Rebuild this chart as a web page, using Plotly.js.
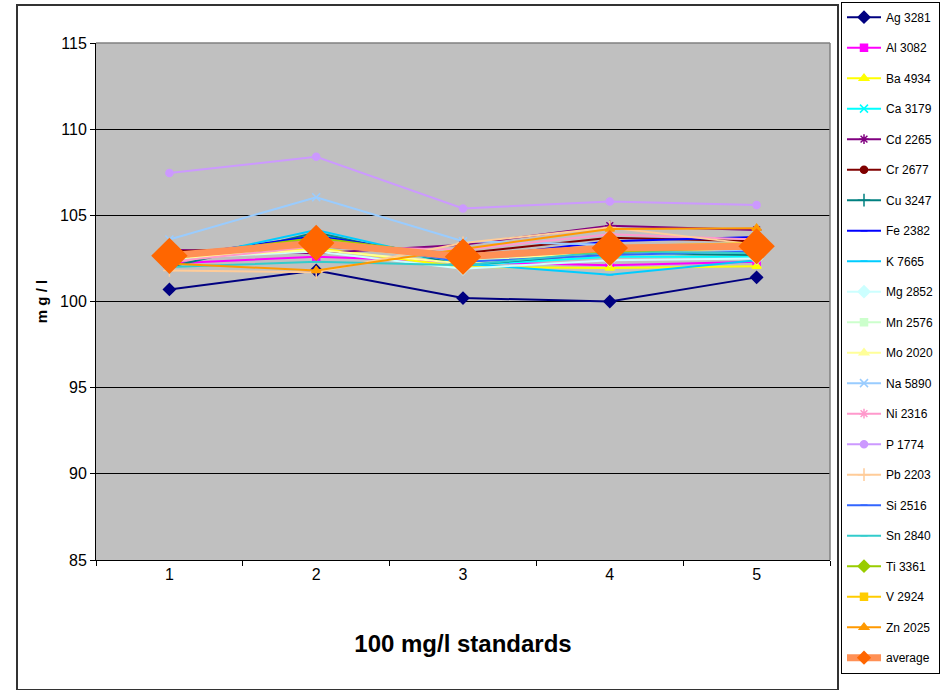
<!DOCTYPE html>
<html>
<head>
<meta charset="utf-8">
<script src="https://cdn.plot.ly/plotly-3.0.1.min.js"></script>
<style>
  html, body { margin: 0; padding: 0; background: #ffffff; }
  #chart { width: 941px; height: 690px; }
</style>
</head>
<body>
<div id="chart"></div>
<script>
// Standard runs (x axis categories)
const runs = ['1', '2', '3', '4', '5'];

// Measured concentration (mg/l) of each element line for the 100 mg/l standards
const ag3281 = [100.7, 101.8, 100.2, 100.0, 101.4];
const al3082 = [102.2, 102.6, 102.3, 102.1, 102.3];
const ba4934 = [102.4, 103.1, 102.0, 101.95, 102.05];
const ca3179 = [102.3, 103.9, 102.1, 102.6, 102.6];
const cd2265 = [103.0, 102.8, 103.3, 104.4, 104.15];
const cr2677 = [102.9, 103.2, 102.8, 103.7, 103.5];
const cu3247 = [102.0, 104.0, 102.1, 102.8, 102.7];
const fe2382 = [102.6, 103.8, 102.5, 103.5, 103.75];
const k7665 = [102.3, 104.15, 102.2, 101.55, 102.4];
const mg2852 = [102.5, 102.9, 101.9, 102.4, 102.5];
const mn2576 = [102.4, 103.3, 102.4, 102.7, 102.9];
const mo2020 = [102.5, 103.0, 102.2, 103.0, 103.0];
const na5890 = [103.6, 106.05, 103.5, 103.3, 102.9];
const ni2316 = [102.3, 103.2, 103.0, 103.9, 103.6];
const p1774 = [107.45, 108.4, 105.4, 105.8, 105.6];
const pb2203 = [101.8, 101.7, 103.4, 104.3, 103.3];
const si2516 = [102.7, 103.6, 102.3, 102.7, 102.9];
const sn2840 = [102.0, 102.3, 102.1, 102.9, 102.8];
const ti3361 = [102.6, 103.7, 102.6, 102.9, 103.1];
const v2924 = [102.5, 103.5, 102.7, 103.2, 103.4];
const zn2025 = [102.2, 101.8, 103.05, 104.2, 104.25];
const average = [102.65, 103.4, 102.6, 103.1, 103.2];

const seriesNames = ['Ag 3281', 'Al 3082', 'Ba 4934', 'Ca 3179', 'Cd 2265', 'Cr 2677', 'Cu 3247',
  'Fe 2382', 'K 7665', 'Mg 2852', 'Mn 2576', 'Mo 2020', 'Na 5890', 'Ni 2316', 'P 1774',
  'Pb 2203', 'Si 2516', 'Sn 2840', 'Ti 3361', 'V 2924', 'Zn 2025'];
const seriesValues = [ag3281, al3082, ba4934, ca3179, cd2265, cr2677, cu3247,
  fe2382, k7665, mg2852, mn2576, mo2020, na5890, ni2316, p1774,
  pb2203, si2516, sn2840, ti3361, v2924, zn2025];

// Line / marker styling per element
const styles = [
  { color: '#000080', symbol: 'diamond', size: 9 },
  { color: '#FF00FF', symbol: 'square', size: 7 },
  { color: '#FFFF00', symbol: 'triangle-up', size: 8 },
  { color: '#00FFFF', symbol: 'x-thin-open', size: 8 },
  { color: '#800080', symbol: 'asterisk-open', size: 8 },
  { color: '#800000', symbol: 'circle', size: 7 },
  { color: '#008080', symbol: 'cross-thin-open', size: 9 },
  { color: '#0000FF', symbol: 'line-ew-open', size: 5 },
  { color: '#00CCFF', symbol: 'line-ew-open', size: 5 },
  { color: '#CCFFFF', symbol: 'diamond', size: 9 },
  { color: '#CCFFCC', symbol: 'square', size: 7 },
  { color: '#FFFF99', symbol: 'triangle-up', size: 8 },
  { color: '#99CCFF', symbol: 'x-thin-open', size: 8 },
  { color: '#FF99CC', symbol: 'asterisk-open', size: 8 },
  { color: '#CC99FF', symbol: 'circle', size: 7 },
  { color: '#FFCC99', symbol: 'cross-thin-open', size: 9 },
  { color: '#3366FF', symbol: 'line-ew-open', size: 5 },
  { color: '#33CCCC', symbol: 'line-ew-open', size: 5 },
  { color: '#99CC00', symbol: 'diamond', size: 9 },
  { color: '#FFCC00', symbol: 'square', size: 7 },
  { color: '#FF9900', symbol: 'triangle-up', size: 8 }
];

const FONT = '"Liberation Sans", Arial, sans-serif';

const traces = seriesNames.map((name, i) => ({
  type: 'scatter',
  mode: 'lines+markers',
  name: name,
  legendgroup: name,
  x: runs,
  y: seriesValues[i],
  line: { color: styles[i].color, width: 2 },
  marker: {
    color: styles[i].color,
    symbol: styles[i].symbol,
    size: styles[i].size,
    line: { color: styles[i].color, width: 1.5 }
  },
  hoverinfo: 'name+y'
}));

// average: thick line (with a small diamond for the legend key) ...
traces.push({
  type: 'scatter',
  mode: 'lines+markers',
  name: 'average',
  legendgroup: 'average',
  x: runs,
  y: average,
  line: { color: '#FF9055', width: 7 },
  marker: { color: '#FF6600', symbol: 'diamond', size: 11, line: { width: 0 } },
  hoverinfo: 'name+y'
});
// ... and its large diamond markers on the plot
traces.push({
  type: 'scatter',
  mode: 'markers',
  name: 'average',
  legendgroup: 'average',
  showlegend: false,
  x: runs,
  y: average,
  marker: { color: '#FF6600', symbol: 'diamond', size: 28, line: { width: 0 } },
  hoverinfo: 'skip'
});

// plot area spans 96..830 px horizontally inside a paper that is 845 px wide
const PAPER_W = 941 - 96;
const px = v => (v - 96) / PAPER_W;

const layout = {
  width: 941,
  height: 690,
  margin: { l: 96, r: 0, t: 43, b: 130 },
  paper_bgcolor: '#FFFFFF',
  plot_bgcolor: '#C0C0C0',
  font: { family: FONT, size: 16, color: '#000000' },
  showlegend: true,
  legend: {
    x: px(940), xanchor: 'right',
    y: 1.08, yanchor: 'top',
    bgcolor: '#FFFFFF',
    bordercolor: '#000000',
    borderwidth: 1,
    font: { family: FONT, size: 12, color: '#000000' },
    tracegroupgap: 11.5,
    itemwidth: 34,
    maxheight: 690,
    itemclick: false
  },
  xaxis: {
    type: 'category',
    domain: [0, px(830)],
    range: [-0.5, 4.5],
    tickson: 'boundaries',
    ticks: 'outside',
    ticklen: 5,
    tickcolor: '#000000',
    showgrid: false,
    showline: true,
    linecolor: '#000000',
    linewidth: 1,
    zeroline: false,
    tickfont: { family: FONT, size: 16 },
    title: { text: '100 mg/l standards', font: { family: FONT, size: 24, weight: 'bold' }, standoff: 52 }
  },
  yaxis: {
    range: [85, 115],
    dtick: 5,
    tick0: 85,
    ticks: 'outside',
    ticklen: 5,
    tickcolor: '#000000',
    showgrid: true,
    gridcolor: '#000000',
    gridwidth: 1,
    showline: true,
    linecolor: '#000000',
    linewidth: 1,
    zeroline: false,
    tickfont: { family: FONT, size: 16 },
    title: { text: 'm g / l', font: { family: FONT, size: 15, weight: 'bold' }, standoff: 8 }
  },
  shapes: [
    // plot area border (top and right edges)
    { type: 'line', xref: 'x domain', yref: 'y domain', x0: 0, x1: 1, y0: 1, y1: 1,
      line: { color: '#808080', width: 1.5 }, layer: 'above' },
    { type: 'line', xref: 'x domain', yref: 'y domain', x0: 1, x1: 1, y0: 0, y1: 1,
      line: { color: '#808080', width: 1.5 }, layer: 'above' },
    // chart area frame
    { type: 'rect', xref: 'paper', yref: 'paper', x0: px(17), x1: px(838), y0: -0.2515, y1: 1.0735,
      line: { color: '#333333', width: 2 }, fillcolor: 'rgba(0,0,0,0)', layer: 'below' }
  ]
};

Plotly.newPlot('chart', traces, layout, { displayModeBar: false, staticPlot: true });
</script>
</body>
</html>
